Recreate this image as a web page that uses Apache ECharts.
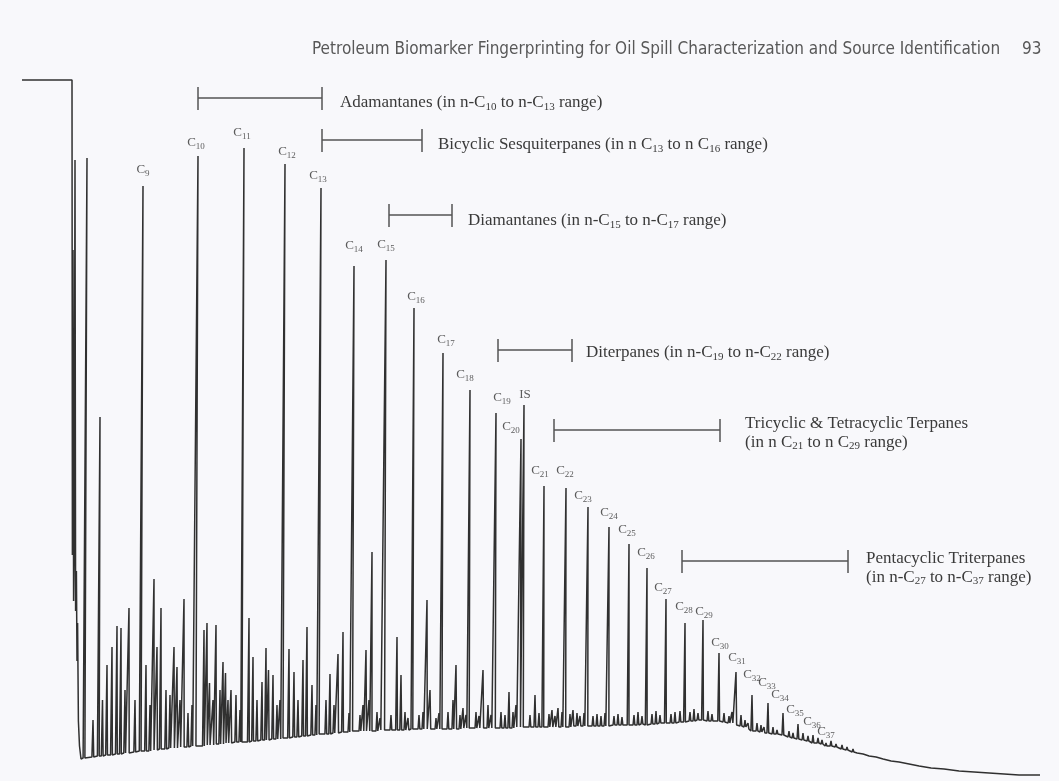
<!DOCTYPE html>
<html><head><meta charset="utf-8">
<script src="https://cdn.jsdelivr.net/npm/echarts@6/dist/echarts.min.js"></script>
<style>html,body{margin:0;padding:0;background:#f8f8fb}#c{width:1059px;height:781px}</style>
</head><body><div id="c"></div>
<script>
// ---------------- DATA ----------------
const headerText = 'Petroleum Biomarker Fingerprinting for Oil Spill Characterization and Source Identification';
const pageNumber = '93';

// n-alkanes: retention position (apex), apex signal, baseline signal under peak
const alkaneCarbon = [9,10,11,12,13,14,15,16,17,18,19,20,21,22,23,24,25,26,27,28,29,30,31,32,33,34,35,36,37];
const alkaneRT   = [143,198,244,285,321,354,386,414,443,470,496,521,544,566,588,609,629,647,666,685,703,719,736,752,768,783,798,813,826];
const alkaneApex = [595,625,633,617,593,515,521,473,428,391,368,342,295,293,274,254,237,213,182,158,161,128,109,86,78,68,57,46,38];
const alkaneFoot = [30,35,39,43,47,50,51,52,52,53,53,54,54,54,55,55,56,56,58,59,61,60,56,50,48,46,42,38,35];

// internal standard
const isName = 'IS';
const isRT = 524, isApex = 376, isFoot = 54;

// solvent front (retention, signal)
const solventFront = [[22,701],[72,701],[72.4,226],[73,531],[73.6,180],[74.2,230],[75,621],[75.6,170],[76.4,210],[77,120],[77.6,158],[78.4,60],[79.5,35],[81,22],[82.5,24]];

// unlabelled peaks: [retention, apex signal, baseline signal]
const minorPeaks = [
  [87,623,23],[93,61,24],[100,364,25],[102.5,81,25],[107,116,26],[112,134,26],[117,155,27],[121,153,27],[125,91,28],[129,173,28],[135,81,29],
  [146,116,30],[150,76,30],[154,202,31],[157,134,31],[161,173,32],[166,91,32],[170,86,33],[174,134,33],[177,114,33],[180,81,34],[184,182,34],
  [188,68,34],[192,76,35],[204,151,35],[207,158,36],[209.5,98,36],[213,81,36],[216,156,37],[220,91,37],[223,119,37],[225.5,108,38],[228,81,38],
  [231,91,38],[236,86,39],[240,71,39],[249,163,39],[253,124,40],[257,81,40],[262,99,41],[266,133,41],[268.5,111,41],[273,106,42],[277,76,42],
  [280,81,42],[289,132,43],[294,109,44],[298,81,44],[303,121,45],[307,154,45],[312,96,46],[316,76,46],[326,81,47],[330,107,47],[334,76,48],
  [338,127,48],[343,149,49],[349,68,49],[360,66,50],[363,76,50],[366,131,50],[369,81,50],[372,229,50],[377,69,50],[380,63,51],[391,66,51],
  [397,144,51],[401,106,51],[405,69,51],[408,63,51],[419,66,52],[423,69,52],[427,181,52],[430,91,52],[436,63,52],[439,68,52],[448,69,52],
  [453,81,52],[456,116,52],[460,66,52],[463,73,53],[466,66,53],[476,69,53],[479,65,53],[483,111,53],[488,76,53],[491,66,53],[501,69,53],
  [505,66,53],[509,89,53],[513,69,53],[516,76,54],[530,66,54],[535,86,54],[539,68,54],[549,67,54],[552,71,54],[555,65,54],[558,73,54],
  [562,69,54],[570,67,54],[573,71,55],[577,68,55],[580,65,55],[584,68,55],[593,65,55],[597,67,55],[601,65,55],[605,68,55],[614,65,56],
  [618,67,56],[622,64,56],[634,66,56],[638,69,56],[642,65,57],[652,67,57],[656,70,57],[660,66,58],[671,67,58],[675,69,58],[680,70,59],
  [690,69,60],[694,72,60],[698,68,61],[708,70,60],[712,67,60],[724,68,59],[729,65,58],[732,69,58],[741,66,55],[745,61,54],[748,58,52],
  [757,58,50],[761,56,49],[764,54,48],[773,54,47],[777,51,47],[789,50,44],[793,48,43],[803,48,41],[808,45,40],[818,43,38],[822,41,37],
  [831,40,35],[836,37,34],[842,36,32],[847,34,31],[853,32,29],[858,30,28],[864,29,27],[870,27,25],[877,26,24],[884,24,22],[892,22,20],
  [900,21,19],[910,19,17],[920,17,15],[932,15,13],[945,14,12],[960,12,10],[975,11,9],[990,10,8],[1005,9,7],[1020,8,6]
];
const traceEnd = [1040, 6];

// compound-class retention windows
const rangeTexts = [
  ['Adamantanes (in n-C','10',' to n-C','13',' range)'],
  ['Bicyclic Sesquiterpanes (in n C','13',' to n C','16',' range)'],
  ['Diamantanes (in n-C','15',' to n-C','17',' range)'],
  ['Diterpanes (in n-C','19',' to n-C','22',' range)'],
  ['Tricyclic & Tetracyclic Terpanes\n(in n C','21',' to n C','29',' range)'],
  ['Pentacyclic Triterpanes\n(in n-C','27',' to n-C','37',' range)']
];
const rangeFrom = [198,322,389,498,554,682];
const rangeTo   = [322,422,452,572,720,848];

// ---------------- STYLE / LAYOUT ----------------
const rangeLevel = [683,641,566,431,351,220];          // vertical placement of bracket (signal units)
const rangeTextDy = [5,5,6,3,3,7];                      // px offset of text centre from bracket
const rangeTextGap = [18,16,16,14,25,18];
const labelOffset = {
  C9:[0,-16],C10:[-2,-13],C11:[-2,-15],C12:[2,-12],C13:[-3,-12],C14:[0,-20],C15:[0,-15],C16:[2,-11],C17:[3,-13],
  C18:[-5,-15],C19:[6,-15],IS:[1,-10],C20:[-10,-12],C21:[-4,-15],C22:[-1,-17],C23:[-5,-11],C24:[0,-14],C25:[-2,-14],
  C26:[-1,-15],C27:[-3,-11],C28:[-1,-16],C29:[1,-8],C30:[1,-10],C31:[1,-14],C32:[0,-20],C33:[-1,-20],C34:[-3,-18],
  C35:[-3,-14],C36:[-1,-13],C37:[0,-11]
};
const SKEW = 0.005, HALF = 0.9;
const serif = "'Liberation Serif','DejaVu Serif',serif";
const narrow = "'DejaVu Sans Condensed','Liberation Sans',sans-serif";
const ink = '#303030';

// ---------------- BUILD ----------------
const peaks = alkaneRT.map((rt,i)=>[rt, alkaneApex[i], alkaneFoot[i]]);
peaks.push([isRT, isApex, isFoot]);
minorPeaks.forEach(p=>peaks.push(p));
peaks.sort((a,b)=>a[0]-b[0]);
const trace = solventFront.slice();
peaks.forEach(([rt,apex,foot])=>{
  const lean = (apex-foot)*SKEW;
  trace.push([rt-lean-HALF, foot],[rt, apex],[rt-lean+HALF, foot]);
});
trace.push(traceEnd);

const labelData = alkaneCarbon.map((n,i)=>({
  name:'C'+n, value:[alkaneRT[i], alkaneApex[i]],
  label:{formatter:'{c|C}{s|'+n+'}', offset:labelOffset['C'+n]}
}));
labelData.push({name:isName, value:[isRT,isApex], label:{formatter:'{c|'+isName+'}', offset:labelOffset[isName]}});

const rangeData = rangeFrom.map((f,i)=>[f, rangeTo[i], rangeLevel[i], i]);

const chart = echarts.init(document.getElementById('c'), null, {renderer:'canvas'});
chart.setOption({
  backgroundColor:'#f8f8fb',
  animation:false,
  title:[
    {text:headerText, left:312, top:41, padding:0, textStyle:{fontFamily:narrow, fontSize:17, fontWeight:'normal', color:'#585858'}},
    {text:pageNumber, left:1022, top:41, padding:0, textStyle:{fontFamily:narrow, fontSize:17, fontWeight:'normal', color:'#585858'}}
  ],
  grid:{left:0,right:0,top:0,bottom:0},
  xAxis:{type:'value', min:0, max:1059, show:false},
  yAxis:{type:'value', min:0, max:781, show:false},
  series:[
    {type:'line', data:trace, showSymbol:false, symbol:'none', sampling:null,
     lineStyle:{color:ink, width:1.5}, z:2, silent:true},
    {type:'scatter', data:labelData, symbolSize:1, itemStyle:{color:'rgba(0,0,0,0)'}, z:3, silent:true,
     label:{show:true, position:'inside', align:'center', verticalAlign:'middle', color:'#333',
       rich:{c:{fontFamily:serif, fontSize:13, lineHeight:17, color:'#333'},
             s:{fontFamily:serif, fontSize:9, lineHeight:9, verticalAlign:'bottom', color:'#333'}}}},
    {type:'custom', data:rangeData, z:4, silent:true,
     renderItem:function(params, api){
       const i = api.value(3);
       const a = api.coord([api.value(0), api.value(2)]);
       const b = api.coord([api.value(1), api.value(2)]);
       const parts = rangeTexts[i];
       const txt = parts[0]+'{sub|'+parts[1]+'}'+parts[2]+'{sub|'+parts[3]+'}'+parts[4];
       return {type:'group', children:[
         {type:'line', shape:{x1:a[0],y1:a[1],x2:b[0],y2:b[1]}, style:{stroke:'#555', lineWidth:1.5}},
         {type:'line', shape:{x1:a[0],y1:a[1]-11,x2:a[0],y2:a[1]+12}, style:{stroke:'#555', lineWidth:1.5}},
         {type:'line', shape:{x1:b[0],y1:b[1]-11,x2:b[0],y2:b[1]+12}, style:{stroke:'#555', lineWidth:1.5}},
         {type:'text', style:{text:txt, x:b[0]+rangeTextGap[i], y:b[1]+rangeTextDy[i],
            align:'left', verticalAlign:'middle', fill:'#3a3a3a', fontFamily:serif, fontSize:17, lineHeight:19,
            rich:{sub:{fontFamily:serif, fontSize:11, lineHeight:11, verticalAlign:'bottom', fill:'#3a3a3a'}}}}
       ]};
     }}
  ]
});
</script></body></html>
